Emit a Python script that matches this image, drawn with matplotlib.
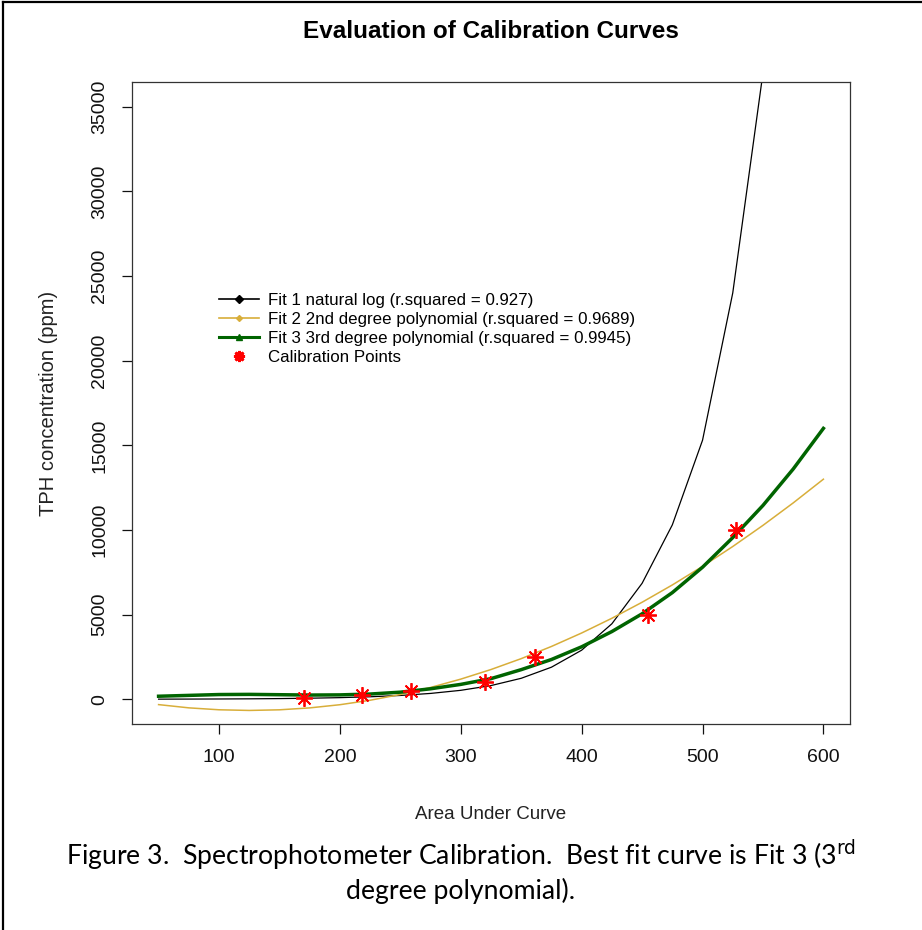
import matplotlib
matplotlib.use("Agg")
import matplotlib.pyplot as plt
from matplotlib.lines import Line2D

plt.rcParams['font.family'] = ['Liberation Sans', 'DejaVu Sans']

## data (curves drawn at steps of 25)
area_grid = [50, 75, 100, 125, 150, 175, 200, 225, 250, 275, 300, 325,
             350, 375, 400, 425, 450, 475, 500, 525, 550, 575, 600]
fit1_log = [8, 12, 18, 27, 41, 63, 97, 148, 226, 346, 529, 810,
            1240, 1895, 2900, 4460, 6850, 10300, 15300, 24000, 37000]
fit2_quad = [-315, -506, -620, -659, -622, -509, -321, -57, 283, 699, 1191, 1758,
             2401, 3120, 3915, 4785, 5731, 6753, 7851, 9024, 10273, 11598, 13000]
fit3_cubic = [180, 230, 280, 290, 270, 250, 260, 310, 420, 620, 880, 1220,
              1750, 2350, 3100, 4000, 5050, 6300, 7800, 9550, 11450, 13600, 16000]

calib_area = [170, 218, 259, 320, 361, 455, 528]
calib_ppm = [100, 250, 500, 1000, 2500, 5000, 10000]

labels = ['Fit 1 natural log (r.squared = 0.927)',
          'Fit 2 2nd degree polynomial (r.squared = 0.9689)',
          'Fit 3 3rd degree polynomial (r.squared = 0.9945)',
          'Calibration Points']

yellow = '#D8AE3A'
green = '#006400'
star = (8, 2, 0)

fig = plt.figure(figsize=(9.22, 9.30), dpi=100)
ax = fig.add_axes([132/922, 1-724/930, 718/922, 642/930])

ax.plot(area_grid[:len(fit1_log)], fit1_log, color='black', lw=0.9)
ax.plot(area_grid, fit2_quad, color=yellow, lw=1.1)
ax.plot(area_grid, fit3_cubic, color=green, lw=2.5)
ax.plot(calib_area, calib_ppm, linestyle='none', marker=star, color='red',
        markersize=12, markeredgewidth=1.3)

ax.set_xlim(28, 622)
ax.set_ylim(-1460, 36460)
ax.set_xticks([100, 200, 300, 400, 500, 600])
ax.set_yticks(range(0, 35001, 5000))
ax.tick_params(direction='out', length=7, width=0.9, labelsize=14, colors='#111111')
ax.tick_params(axis='x', pad=11)
ax.tick_params(axis='y', pad=10)
for lab in ax.get_yticklabels():
    lab.set_rotation(90)
    lab.set_va('center')
for s in ax.spines.values():
    s.set_linewidth(0.9)
    s.set_color('#333333')

fig.text(491/922, 1-32/930, 'Evaluation of Calibration Curves', ha='center', va='center',
         fontsize=17.5, fontweight='bold')
ax.set_xlabel('Area Under Curve', fontsize=13.5, labelpad=29, color='#222222')
ax.set_ylabel('TPH concentration (ppm)', fontsize=14.5, labelpad=24, color='#222222')

handles = [Line2D([], [], color='black', lw=1.2, marker='D', markersize=4),
           Line2D([], [], color=yellow, lw=1.2, marker='D', markersize=3),
           Line2D([], [], color=green, lw=2.2, marker='^', markersize=5),
           Line2D([], [], linestyle='none', marker=star, color='red',
                  markersize=8, markeredgewidth=2)]
ax.legend(handles, labels, loc='upper left', bbox_to_anchor=(0.109, 0.685),
          frameon=False, fontsize=12.2, handlelength=2.4, handletextpad=0.5,
          labelspacing=0.24, borderpad=0)

fig.text(0.5, 1-855/930, 'Figure 3.  Spectrophotometer Calibration.  Best fit curve is Fit 3 (3$^{\\rm rd}$',
         ha='center', va='center', fontsize=19.2, family='Lato')
fig.text(0.5, 1-891/930, 'degree polynomial).', ha='center', va='center',
         fontsize=19.2, family='Lato')

# page frame (left and top edges)
fig.add_artist(Line2D([3/922, 3/922], [0, 1-2/930], color='black', lw=1.6))
fig.add_artist(Line2D([3/922, 1], [1-2/930, 1-2/930], color='black', lw=1.6))

fig.savefig('out.png', dpi=100)
